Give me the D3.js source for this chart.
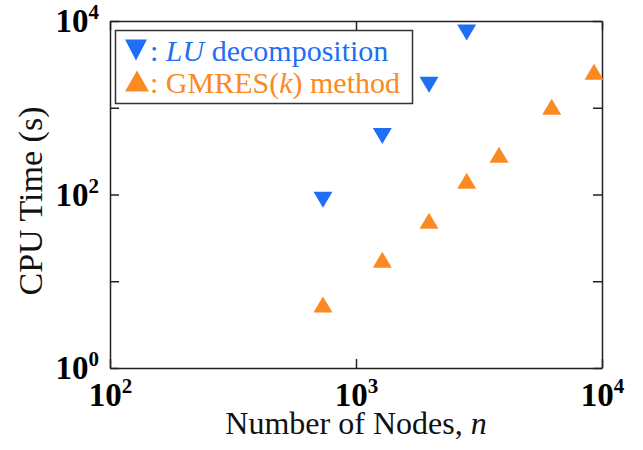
<!DOCTYPE html>
<html>
<head>
<meta charset="utf-8">
<script src="https://cdn.jsdelivr.net/npm/d3@7"></script>
<style>
  body { margin: 0; background: #fff; }
  svg { display: block; }
  .axis path, .axis line { stroke: #222; stroke-width: 1.5; }
</style>
</head>
<body>
<script>

// number of nodes for each case
var nodesLU = [734, 1279, 1981, 2818];
var timeLU = [87, 471, 1836, 7390];

var nodesGM = [734, 1279, 1981, 2818, 3814, 6245, 9280];
var timeGM = [5.4, 17.7, 49.8, 144, 287, 1024, 2594];

var xTickValues = [1e2, 1e3, 1e4];
var yTickValues = [1e0, 1e1, 1e2, 1e3, 1e4];
var yLabelValues = [1e0, 1e2, 1e4];

var blue = "#1f6ff4";
var orange = "#fb8a22";
var serif = "'Liberation Serif', 'Times New Roman', serif";

var width = 643, height = 450;
var margin = {top: 21, right: 41, bottom: 82, left: 110};

var svg = d3.select("body").append("svg")
    .attr("width", width)
    .attr("height", height);

var x = d3.scaleLog().domain([1e2, 1e4]).range([margin.left, width - margin.right]);
var y = d3.scaleLog().domain([1e0, 1e4]).range([height - margin.bottom, margin.top]);

/* write 10^k with a raised exponent */
function powerLabel(sel) {
    sel.each(function(d) {
        var t = d3.select(this).text("")
            .attr("font-family", serif)
            .attr("font-weight", "bold")
            .attr("font-size", "33px")
            .attr("fill", "#000");
        t.append("tspan").text("10");
        t.append("tspan")
            .attr("font-size", "21px")
            .attr("dy", "-13")
            .text(Math.round(Math.log10(d)));
    });
}

/* bottom axis */
var gx = svg.append("g")
    .attr("class", "axis")
    .attr("transform", "translate(0," + y.range()[0] + ")")
    .call(d3.axisBottom(x).tickValues(xTickValues).tickSizeInner(-9).tickSizeOuter(0).tickPadding(15));
gx.selectAll(".tick text").call(powerLabel);

/* top axis, ticks only */
svg.append("g")
    .attr("class", "axis")
    .attr("transform", "translate(0," + y.range()[1] + ")")
    .call(d3.axisTop(x).tickValues(xTickValues).tickSizeInner(-9).tickSizeOuter(0).tickFormat(""));

/* left axis */
var gy = svg.append("g")
    .attr("class", "axis")
    .attr("transform", "translate(" + x.range()[0] + ",0)")
    .call(d3.axisLeft(y).tickValues(yTickValues).tickSizeInner(-9).tickSizeOuter(0).tickPadding(11));
gy.selectAll(".tick text")
    .filter(function(d) { return yLabelValues.indexOf(d) < 0; })
    .remove();
gy.selectAll(".tick text").call(powerLabel);

/* right axis, ticks only */
svg.append("g")
    .attr("class", "axis")
    .attr("transform", "translate(" + x.range()[1] + ",0)")
    .call(d3.axisRight(y).tickValues(yTickValues).tickSizeInner(-9).tickSizeOuter(0).tickFormat(""));

/* axis titles */
svg.append("text")
    .attr("font-family", serif)
    .attr("font-size", "32px")
    .attr("fill", "#111")
    .attr("x", (x.range()[0] + x.range()[1]) / 2)
    .attr("y", 434)
    .attr("text-anchor", "middle")
    .html('Number of Nodes, <tspan font-style="italic">n</tspan>');

svg.append("text")
    .attr("font-family", serif)
    .attr("font-size", "34px")
    .attr("fill", "#111")
    .attr("transform", "translate(42," + 201 + ") rotate(-90)")
    .attr("text-anchor", "middle")
    .text("CPU Time (s)");

/* triangle path, w wide and h tall, centred on 0,0 */
function triangle(w, h, down) {
    var s = down ? -1 : 1;
    return "M0," + (-s * h / 2) + "L" + (w / 2) + "," + (s * h / 2) + "L" + (-w / 2) + "," + (s * h / 2) + "Z";
}

/* data points */
svg.selectAll(".lu")
    .data(d3.zip(nodesLU, timeLU))
    .enter().append("path")
    .attr("class", "lu")
    .attr("d", triangle(19, 16, true))
    .attr("fill", blue)
    .attr("transform", function(d) { return "translate(" + x(d[0]) + "," + y(d[1]) + ")"; });

svg.selectAll(".gm")
    .data(d3.zip(nodesGM, timeGM))
    .enter().append("path")
    .attr("class", "gm")
    .attr("d", triangle(19, 16, false))
    .attr("fill", orange)
    .attr("transform", function(d) { return "translate(" + x(d[0]) + "," + y(d[1]) + ")"; });

/* legend */
var legend = svg.append("g");
legend.append("rect")
    .attr("x", 115.5).attr("y", 30.5)
    .attr("width", 297).attr("height", 73)
    .attr("fill", "#fff")
    .attr("stroke", "#333")
    .attr("stroke-width", 1.5);

legend.append("path")
    .attr("d", triangle(22, 21, true))
    .attr("transform", "translate(136,50)")
    .attr("fill", blue);
legend.append("text")
    .attr("x", 150).attr("y", 61)
    .attr("font-family", serif)
    .attr("font-size", "30px")
    .attr("fill", blue)
    .html(': <tspan font-style="italic">LU</tspan> decomposition');

legend.append("path")
    .attr("d", triangle(24, 21, false))
    .attr("transform", "translate(137,81)")
    .attr("fill", orange);
legend.append("text")
    .attr("x", 150).attr("y", 93)
    .attr("font-family", serif)
    .attr("font-size", "30px")
    .attr("fill", orange)
    .html(': GMRES(<tspan font-style="italic">k</tspan>) method');

</script>
</body>
</html>
